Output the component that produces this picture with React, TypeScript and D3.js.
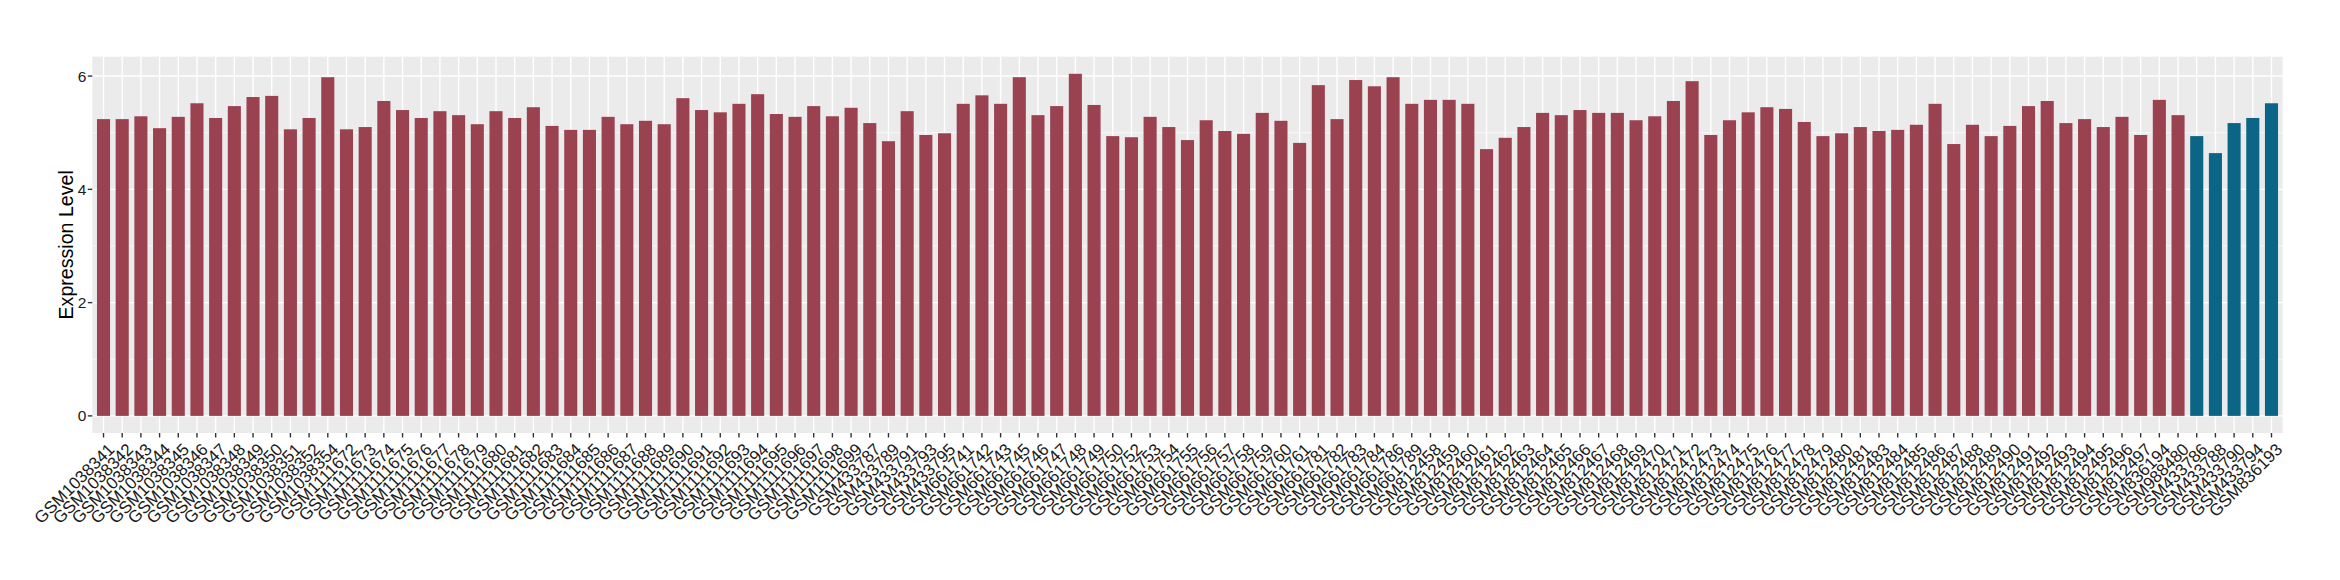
import React, { useEffect, useRef } from 'react';
import * as d3 from 'd3';

const samples = [
  'GSM1038341', 'GSM1038342', 'GSM1038343', 'GSM1038344', 'GSM1038345', 'GSM1038346', 'GSM1038347',
  'GSM1038348', 'GSM1038349', 'GSM1038350', 'GSM1038351', 'GSM1038352', 'GSM1038354',
  'GSM1111672', 'GSM1111673', 'GSM1111674', 'GSM1111675', 'GSM1111676', 'GSM1111677', 'GSM1111678',
  'GSM1111679', 'GSM1111680', 'GSM1111681', 'GSM1111682', 'GSM1111683', 'GSM1111684', 'GSM1111685',
  'GSM1111686', 'GSM1111687', 'GSM1111688', 'GSM1111689', 'GSM1111690', 'GSM1111691', 'GSM1111692',
  'GSM1111693', 'GSM1111694', 'GSM1111695', 'GSM1111696', 'GSM1111697', 'GSM1111698', 'GSM1111699',
  'GSM433787', 'GSM433789', 'GSM433791', 'GSM433793', 'GSM433795',
  'GSM661741', 'GSM661742', 'GSM661743', 'GSM661745', 'GSM661746', 'GSM661747', 'GSM661748',
  'GSM661749', 'GSM661750', 'GSM661752', 'GSM661753', 'GSM661754', 'GSM661755', 'GSM661756',
  'GSM661757', 'GSM661758', 'GSM661759', 'GSM661760', 'GSM661761',
  'GSM661781', 'GSM661782', 'GSM661783', 'GSM661784', 'GSM661786', 'GSM661789',
  'GSM812458', 'GSM812459', 'GSM812460', 'GSM812461', 'GSM812462', 'GSM812463', 'GSM812464',
  'GSM812465', 'GSM812466', 'GSM812467', 'GSM812468', 'GSM812469', 'GSM812470', 'GSM812471',
  'GSM812472', 'GSM812473', 'GSM812474', 'GSM812475', 'GSM812476', 'GSM812477', 'GSM812478',
  'GSM812479', 'GSM812480', 'GSM812481', 'GSM812483', 'GSM812484', 'GSM812485', 'GSM812486',
  'GSM812487', 'GSM812488', 'GSM812489', 'GSM812490', 'GSM812491', 'GSM812492', 'GSM812493',
  'GSM812494', 'GSM812495', 'GSM812496', 'GSM812497',
  'GSM836194', 'GSM988480',
  'GSM433786', 'GSM433788', 'GSM433790', 'GSM433794', 'GSM836193'
];

const expression = [
  5.24, 5.24, 5.29, 5.08, 5.28, 5.52, 5.26, 5.47, 5.63, 5.65, 5.06, 5.26, 5.98,
  5.06, 5.10, 5.56, 5.40, 5.26, 5.38, 5.31, 5.15, 5.38, 5.26, 5.45, 5.12, 5.05, 5.05,
  5.28, 5.15, 5.21, 5.15, 5.61, 5.40, 5.36, 5.51, 5.68, 5.33, 5.28, 5.47, 5.29, 5.44,
  5.17, 4.85, 5.38, 4.96, 4.99,
  5.51, 5.66, 5.51, 5.98, 5.31, 5.47, 6.04, 5.49, 4.94, 4.92, 5.28, 5.10, 4.87, 5.22,
  5.03, 4.98, 5.35, 5.21, 4.82,
  5.84, 5.24, 5.93, 5.82, 5.98, 5.51,
  5.58, 5.58, 5.51, 4.71, 4.91, 5.10, 5.35, 5.31, 5.40, 5.35, 5.35, 5.22, 5.29, 5.56,
  5.91, 4.96, 5.22, 5.36, 5.45, 5.42, 5.19, 4.94, 4.99, 5.10, 5.03, 5.05, 5.14, 5.51,
  4.80, 5.14, 4.94, 5.12, 5.47, 5.56, 5.17, 5.24, 5.10, 5.28, 4.96,
  5.58, 5.31,
  4.94, 4.64, 5.17, 5.26, 5.52
];

// samples drawn in the second colour
const highlighted = ['GSM433786', 'GSM433788', 'GSM433790', 'GSM433794', 'GSM836193'];

const yMajor = [0, 2, 4, 6];
const yMinor = [1, 3, 5];

export default function App() {
  const node = useRef(null);

  useEffect(() => {
    const width = 2340;
    const height = 580;
    const left = 92.3, right = 2282.7, top = 56.7, bottom = 433;
    const font = '"Liberation Sans", Arial, sans-serif';

    const svg = d3.select(node.current);
    svg.selectAll('*').remove();
    svg.attr('width', width).attr('height', height);

    const data = samples.map((s, i) => ({ sample: s, value: expression[i] }));

    const x = d3.scaleBand()
      .domain(samples)
      .range([left, right])
      .paddingInner(0.3)
      .paddingOuter(0.25);

    const maxVal = d3.max(expression);
    const y = d3.scaleLinear()
      .domain([-0.05 * maxVal, maxVal * 1.05])
      .range([bottom, top]);

    // panel
    svg.append('rect')
      .attr('x', left).attr('y', top)
      .attr('width', right - left).attr('height', bottom - top)
      .attr('fill', '#EBEBEB');

    svg.append('g').selectAll('line').data(yMinor).enter().append('line')
      .attr('x1', left).attr('x2', right)
      .attr('y1', d => y(d)).attr('y2', d => y(d))
      .attr('stroke', '#FFFFFF').attr('stroke-width', 0.7);

    svg.append('g').selectAll('line').data(yMajor).enter().append('line')
      .attr('x1', left).attr('x2', right)
      .attr('y1', d => y(d)).attr('y2', d => y(d))
      .attr('stroke', '#FFFFFF').attr('stroke-width', 1.4);

    svg.append('g').selectAll('line').data(samples).enter().append('line')
      .attr('x1', d => x(d) + x.bandwidth() / 2).attr('x2', d => x(d) + x.bandwidth() / 2)
      .attr('y1', top).attr('y2', bottom)
      .attr('stroke', '#FFFFFF').attr('stroke-width', 1.4);

    // bars
    svg.append('g').selectAll('rect').data(data).enter().append('rect')
      .attr('x', d => x(d.sample))
      .attr('y', d => y(d.value))
      .attr('width', x.bandwidth())
      .attr('height', d => y(0) - y(d.value))
      .attr('fill', d => highlighted.includes(d.sample) ? '#0B6586' : '#9B4251');

    // y axis
    const yAxis = svg.append('g');
    yAxis.selectAll('line').data(yMajor).enter().append('line')
      .attr('x1', left - 4.5).attr('x2', left)
      .attr('y1', d => y(d)).attr('y2', d => y(d))
      .attr('stroke', '#333333').attr('stroke-width', 1.4);
    yAxis.selectAll('text').data(yMajor).enter().append('text')
      .attr('x', left - 6).attr('y', d => y(d))
      .attr('dy', '0.36em')
      .attr('text-anchor', 'end')
      .attr('font-family', font).attr('font-size', 15.5)
      .attr('fill', '#1A1A1A')
      .text(d => d);

    svg.append('text')
      .attr('transform', `translate(72.5, ${(top + bottom) / 2}) rotate(-90)`)
      .attr('text-anchor', 'middle')
      .attr('font-family', font).attr('font-size', 19.6)
      .attr('fill', '#000000')
      .text('Expression Level');

    // x axis
    const xAxis = svg.append('g');
    xAxis.selectAll('line').data(samples).enter().append('line')
      .attr('x1', d => x(d) + x.bandwidth() / 2).attr('x2', d => x(d) + x.bandwidth() / 2)
      .attr('y1', bottom).attr('y2', bottom + 4.5)
      .attr('stroke', '#333333').attr('stroke-width', 1.4);
    xAxis.selectAll('text').data(samples).enter().append('text')
      .attr('transform', d => `translate(${x(d) + x.bandwidth() / 2 + 12}, 450.5) rotate(-45)`)
      .attr('text-anchor', 'end')
      .attr('font-family', font).attr('font-size', 17)
      .attr('fill', '#1A1A1A')
      .text(d => d);
  }, []);

  return (
    <div style={{ position: 'absolute', left: 0, top: 0, width: 2340, height: 580, background: '#FFFFFF' }}>
      <svg ref={node} style={{ display: 'block' }}></svg>
    </div>
  );
}
